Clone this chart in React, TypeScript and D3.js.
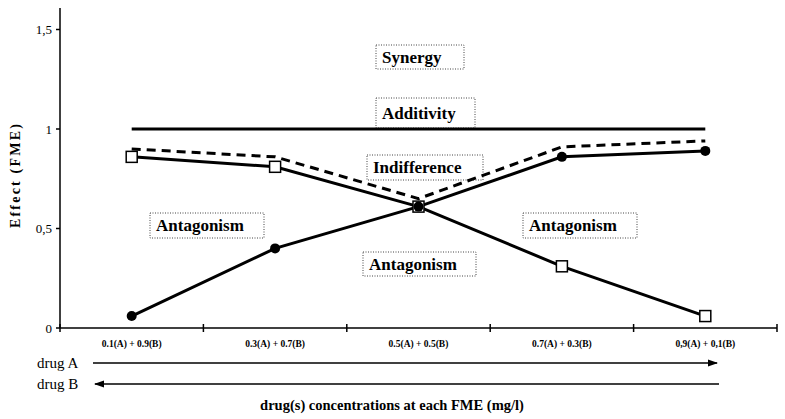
import React from "react";
import * as d3 from "d3";

// mixtures along x (A fraction + B fraction)
const mixtures = [
  "0.1(A) + 0.9(B)",
  "0.3(A) + 0.7(B)",
  "0.5(A) + 0.5(B)",
  "0.7(A) + 0.3(B)",
  "0,9(A) + 0,1(B)",
];

// effect of drug A (filled circles)
const effectA = [0.06, 0.4, 0.61, 0.86, 0.89];
// effect of drug B (open squares)
const effectB = [0.86, 0.81, 0.61, 0.31, 0.06];
// indifference line (dashed)
const indifference = [0.9, 0.86, 0.65, 0.91, 0.94];
// additivity reference
const additivity = [1, 1, 1, 1, 1];

const yTicks = [0, 0.5, 1, 1.5];
const yTickLabels = ["0", "0,5", "1", "1,5"];

const zoneLabels = ["Synergy", "Additivity", "Indifference", "Antagonism", "Antagonism", "Antagonism"];
// box geometry for zone labels: [x, y, w, h]
const zoneBoxes = [
  [376, 45, 88, 24],
  [376, 98, 99, 30],
  [367, 155, 116, 25],
  [150, 213, 114, 25],
  [363, 252, 113, 24],
  [523, 213, 114, 25],
];

const serif = "Liberation Serif, DejaVu Serif, serif";

export default function App() {
  const width = 785;
  const height = 419;
  const x = d3.scaleBand<string>().domain(mixtures).range([60, 777]).padding(0);
  const y = d3.scaleLinear().domain([0, 1]).range([328, 129]);
  const cx = (i: number) => (x(mixtures[i]) as number) + x.bandwidth() / 2;

  const line = d3
    .line<number>()
    .x((_, i) => cx(i))
    .y((d) => y(d));

  const edges = [...mixtures.map((m) => x(m) as number), 777];

  return (
    <svg
      width={width}
      height={height}
      style={{ position: "absolute", left: 0, top: 0, background: "#fff", fontFamily: serif }}
    >
      <defs>
        <marker id="arr" viewBox="0 0 10 10" refX="9" refY="5" markerWidth="7" markerHeight="7" orient="auto-start-reverse">
          <path d="M0,1.5 L10,5 L0,8.5 z" fill="#000" />
        </marker>
      </defs>

      {/* y axis */}
      <line x1={60} x2={60} y1={8} y2={y(0)} stroke="#000" strokeWidth={1.5} />
      {yTicks.map((t, i) => (
        <g key={t}>
          <line x1={56} x2={60} y1={y(t)} y2={y(t)} stroke="#000" strokeWidth={1.5} />
          <text x={52} y={y(t)} dy="0.35em" textAnchor="end" fontSize={13}>
            {yTickLabels[i]}
          </text>
        </g>
      ))}
      <text
        transform={`translate(20,${175}) rotate(-90)`}
        textAnchor="middle"
        fontSize={14}
        fontWeight="bold"
        letterSpacing={2.2}
      >
        Effect (FME)
      </text>

      {/* x axis */}
      <line x1={60} x2={777} y1={y(0)} y2={y(0)} stroke="#000" strokeWidth={1.5} />
      {edges.map((e, i) => (
        <line key={i} x1={e} x2={e} y1={y(0) - 4} y2={y(0) + 4} stroke="#000" strokeWidth={1.5} />
      ))}
      {mixtures.map((m, i) => (
        <text key={m} x={cx(i)} y={347} textAnchor="middle" fontSize={9.5} fontWeight="bold">
          {m}
        </text>
      ))}

      {/* zone labels */}
      {zoneLabels.map((l, i) => {
        const [bx, by, bw, bh] = zoneBoxes[i];
        return (
          <g key={i}>
            <rect x={bx} y={by} width={bw} height={bh} fill="#fff" stroke="#444" strokeWidth={1} strokeDasharray="1,1.5" />
            <text x={bx + 6} y={by + bh / 2} dy="0.35em" fontSize={17} fontWeight="bold">
              {l}
            </text>
          </g>
        );
      })}

      {/* additivity */}
      <path d={line(additivity) as string} fill="none" stroke="#000" strokeWidth={3} />
      {/* indifference */}
      <path d={line(indifference) as string} fill="none" stroke="#000" strokeWidth={3} strokeDasharray="9,6" />
      {/* drug B */}
      <path d={line(effectB) as string} fill="none" stroke="#000" strokeWidth={3} />
      {/* drug A */}
      <path d={line(effectA) as string} fill="none" stroke="#000" strokeWidth={3} />

      {effectB.map((v, i) => (
        <rect key={i} x={cx(i) - 5.5} y={y(v) - 5.5} width={11} height={11} fill="#fff" stroke="#000" strokeWidth={1.5} />
      ))}
      {effectA.map((v, i) => (
        <circle key={i} cx={cx(i)} cy={y(v)} r={5} fill="#000" />
      ))}

      {/* drug arrows */}
      <text x={37} y={363} dy="0.35em" fontSize={15}>drug A</text>
      <text x={37} y={384} dy="0.35em" fontSize={15}>drug B</text>
      <line x1={93} x2={717} y1={363} y2={363} stroke="#000" strokeWidth={1.5} markerEnd="url(#arr)" />
      <line x1={719} x2={95} y1={384} y2={384} stroke="#000" strokeWidth={1.5} markerEnd="url(#arr)" />

      <text x={392} y={410} textAnchor="middle" fontSize={14.5} fontWeight="bold">
        drug(s) concentrations at each FME (mg/l)
      </text>
    </svg>
  );
}
